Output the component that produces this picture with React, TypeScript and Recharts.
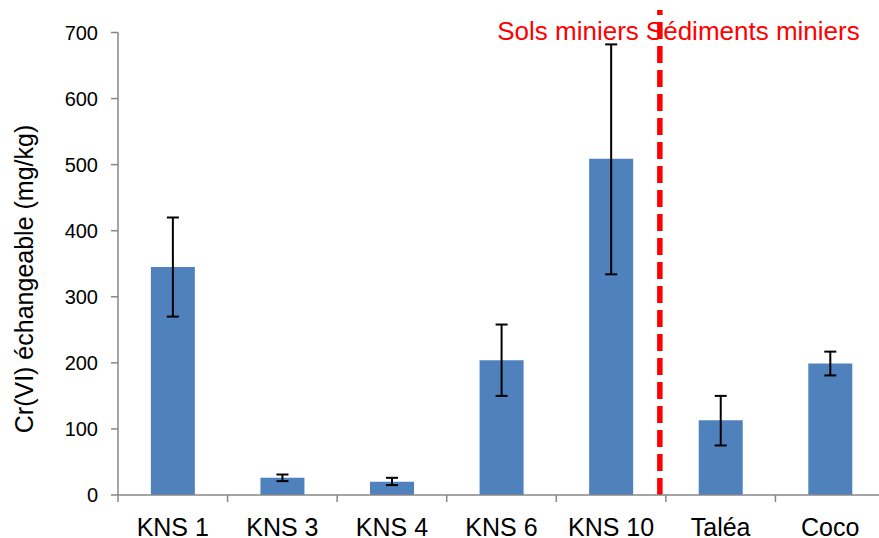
import { BarChart, Bar, XAxis, YAxis, ErrorBar, ReferenceLine } from 'recharts'

const categories = ['KNS 1', 'KNS 3', 'KNS 4', 'KNS 6', 'KNS 10', 'Taléa', 'Coco']
const crVI = [345, 26, 20, 204, 509, 113, 199]
const lowerBound = [270, 21, 15, 150, 334, 75, 181]
const upperBound = [420, 31, 26, 258, 682, 150, 217]
const yTicks = [0, 100, 200, 300, 400, 500, 600, 700]
const groupLabels = ['Sols miniers', 'Sédiments miniers']
const lastSoil = 'KNS 10'

const data = categories.map((name, i) => ({
  name,
  value: crVI[i],
  err: [crVI[i] - lowerBound[i], upperBound[i] - crVI[i]],
}))

const FONT = "Arial, 'Liberation Sans', sans-serif"
const AXIS_GREY = '#878787'
const TICK_SIZE = 7
const TICK_MARGIN = 16

// category label plus a tick mark on the left edge of each band
function CategoryTick(props: any) {
  const { x, y, payload, index, visibleTicksCount } = props
  const half = payload.offset ?? 0
  const axisY = y - TICK_SIZE - TICK_MARGIN
  const edges = [x - half]
  if (index === visibleTicksCount - 1) edges.push(x + half)
  return (
    <g>
      {edges.map((ex) => (
        <line key={ex} x1={ex} x2={ex} y1={axisY} y2={axisY + TICK_SIZE} stroke={AXIS_GREY} strokeWidth={1.5} />
      ))}
      <text x={x} y={y} dy="0.71em" textAnchor="middle" fontFamily={FONT} fontSize={25} fill="#000">
        {payload.value}
      </text>
    </g>
  )
}

// red dashed divider between soils and sediments, with its two captions
function Divider(props: any) {
  const { x1, y1, y2 } = props
  const x = x1 - 6
  const top = Math.min(y1, y2) - 22.5
  const bottom = Math.max(y1, y2)
  return (
    <g>
      <line x1={x} x2={x} y1={bottom} y2={top} stroke="#ff0000" strokeWidth={5.5} strokeDasharray="17 7" />
      <g fontFamily={FONT} fontSize={26} fill="#ff0000">
        <text x={x - 21} y={40} textAnchor="end">{groupLabels[0]}</text>
        <text x={x - 14} y={40} textAnchor="start">{groupLabels[1]}</text>
      </g>
    </g>
  )
}

export default function App() {
  return (
    <div style={{ width: 879, height: 538, overflow: 'hidden', background: '#fff' }}>
      <style>{'html, body { margin: 0; padding: 0; overflow: hidden; }'}</style>
      <BarChart
        width={890}
        height={538}
        data={data}
        margin={{ top: 32.5, right: 5, bottom: 0, left: 0 }}
        barCategoryGap="30%"
      >
        <XAxis
          dataKey="name"
          height={43}
          stroke={AXIS_GREY}
          strokeWidth={1.5}
          tickLine={false}
          tickSize={TICK_SIZE}
          tickMargin={TICK_MARGIN}
          tick={CategoryTick}
          interval={0}
        />
        <YAxis
          width={118}
          domain={[0, 700]}
          ticks={yTicks}
          tickSize={TICK_SIZE}
          tickMargin={13}
          stroke={AXIS_GREY}
          strokeWidth={1.5}
          tick={{ fontSize: 20, fill: '#000', fontFamily: FONT }}
          label={() => (
            <text
              x={24}
              y={279}
              transform="rotate(-90, 24, 279)"
              textAnchor="middle"
              dominantBaseline="central"
              fontFamily={FONT}
              fontSize={25}
              fill="#000"
            >
              Cr(VI) échangeable (mg/kg)
            </text>
          )}
        />
        <Bar dataKey="value" fill="#4F81BD" isAnimationActive={false}>
          <ErrorBar dataKey="err" width={6} strokeWidth={2} stroke="#000" direction="y" />
        </Bar>
        <ReferenceLine x={lastSoil} position="end" ifOverflow="visible" shape={Divider} />
      </BarChart>
    </div>
  )
}
